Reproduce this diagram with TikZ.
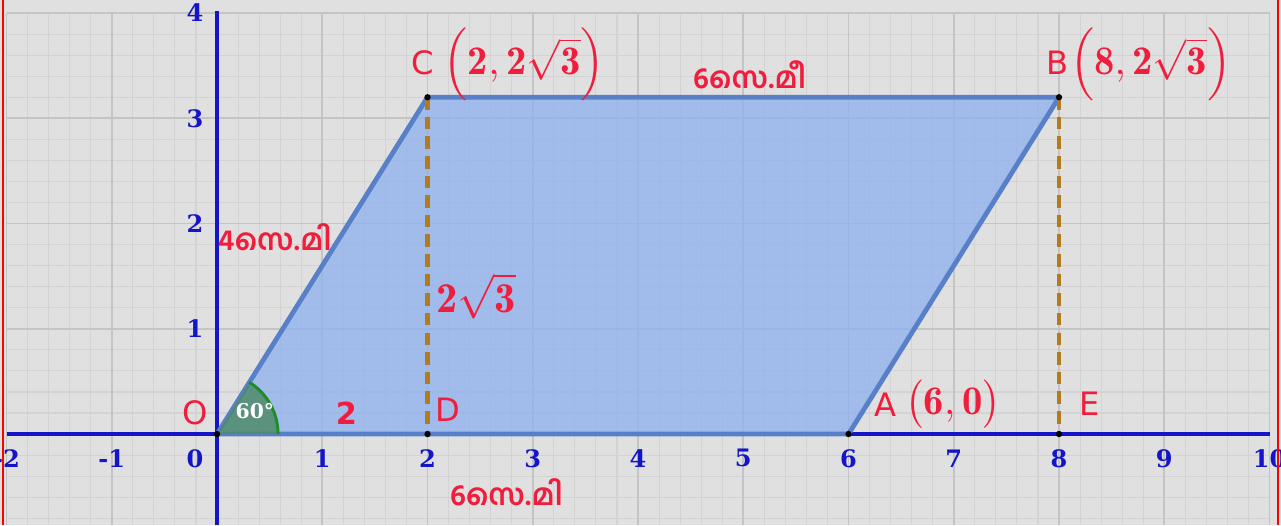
\documentclass[tikz,border=0pt]{standalone}
\usepackage{fontspec}
\usepackage{amsmath}
\setsansfont{DejaVu Sans}
\newfontfamily\mlfont[Script=Malayalam]{Hind Kochi}
\newfontfamily\ejefont{DejaVu Serif}
\usetikzlibrary{positioning}

\definecolor{fondo}{HTML}{E0E0E0}
\definecolor{rejilla}{HTML}{C4C4C4}
\definecolor{rejillafina}{HTML}{D3D3D3}
\definecolor{azuleje}{HTML}{1414C8}
\definecolor{relleno}{HTML}{8DB0F0}
\definecolor{borde}{HTML}{5880C8}
\definecolor{trazos}{HTML}{B07D1E}
\definecolor{rojo}{HTML}{F01E3C}
\definecolor{verde}{HTML}{4F8B6B}
\definecolor{arcoverde}{HTML}{1E8C28}

\begin{document}
\begin{tikzpicture}[
        punto/.style={circle, fill=black, inner sep=0pt, minimum size=0.6mm},
        rotulo/.style={text=rojo, inner sep=1pt, font=\sffamily\fontsize{8.7}{9}\selectfont},
        coord/.style={text=rojo, inner sep=0pt, font=\fontsize{11}{12}\selectfont},
        medida/.style={text=rojo, inner sep=1pt, font=\mlfont\bfseries\fontsize{8}{9}\selectfont},
        marca/.style={text=azuleje, inner sep=1pt, font=\ejefont\bfseries\fontsize{6.5}{7}\selectfont},
        eje/.style={azuleje, line width=0.85pt},
        lado/.style={borde, line width=1.3pt, line join=round},
        altura/.style={trazos, line width=1.1pt, dash pattern=on 3.4pt off 1.9pt}
    ]

    % Marco
    \useasboundingbox (-2.062,-0.865) rectangle (10.109,4.124);
    \fill[fondo] (-2.062,-0.865) rectangle (10.109,4.124);
    \draw[rejillafina, line width=0.3pt, step=0.2] (-2,-0.865) grid (10,4);
    \draw[rejilla, line width=0.5pt, step=1] (-2,-0.865) grid (10,4);

    % Ejes
    \draw[eje] (-2,0) -- (10,0);
    \draw[eje] (0,-0.865) -- (0,4.02);
    \foreach \x in {-2,-1,1,2,3,4,5,6,7,8,9,10}
        \node[marca] (tx\x) at (\x,-0.23) {\x};
    \node[marca] (tx0) at (-0.21,-0.23) {0};
    \foreach \y in {1,2,3,4}
        \node[marca] (ty\y) at (-0.21,\y) {\y};

    % Vértices
    \coordinate (O) at (0,0);
    \coordinate (A) at (6,0);
    \coordinate (B) at (8,3.2);
    \coordinate (C) at (2,3.2);
    \coordinate (D) at (2,0);
    \coordinate (E) at (8,0);

    % Paralelogramo
    \fill[relleno, fill opacity=0.75] (O) -- (A) -- (B) -- (C) -- cycle;
    \draw[lado] (O) -- (A) -- (B) -- (C) -- cycle;

    % Ángulo
    \fill[verde, fill opacity=0.85] (O) -- (0.58,0) arc[start angle=0, end angle=58, radius=0.58] -- cycle;
    \draw[arcoverde, line width=0.8pt] (0.58,0) arc[start angle=0, end angle=58, radius=0.58];

    % Alturas
    \draw[altura] (C) -- (D);
    \draw[altura] (B) -- (E);

    % Puntos
    \node[punto] (nO) at (O) {};
    \node[punto] (nA) at (A) {};
    \node[punto] (nB) at (B) {};
    \node[punto] (nC) at (C) {};
    \node[punto] (nD) at (D) {};
    \node[punto] (nE) at (E) {};

    % Rótulos
    \node[rotulo] (lO) at (-0.21,0.20) {O};
    \node[rotulo] (lD) at (2.19,0.23) {D};
    \node[rotulo] (lE) at (8.29,0.29) {E};
    \node[rotulo] (lA) at (6.35,0.28) {A};
    \node[coord, right=1pt of lA] (lAc) {$\big(\mathbf{6},\mathbf{0}\big)$};
    \node[rotulo] (lC) at (1.95,3.53) {C};
    \node[coord] (lCc) at (2.92,3.51) {$\Big(\mathbf{2},\mathbf{2}\sqrt{\mathbf{3}}\Big)$};
    \node[rotulo] (lB) at (7.99,3.53) {B};
    \node[coord] (lBc) at (8.87,3.51) {$\Big(\mathbf{8},\mathbf{2}\sqrt{\mathbf{3}}\Big)$};
    \node[coord, font=\fontsize{11.5}{12}\selectfont] (lh) at (2.46,1.31) {$\mathbf{2}\sqrt{\mathbf{3}}$};
    \node[rotulo, font=\sffamily\bfseries\fontsize{8.2}{9}\selectfont] (ldos) at (1.23,0.20) {2};
    \node[text=white, inner sep=0pt, font=\ejefont\bfseries\fontsize{5.5}{6}\selectfont] (lang) at (0.36,0.22) {60°};

    % Medidas
    \node[medida] (mCB) at (5.06,3.41) {6സെ.മീ};
    \node[medida] (mOC) at (0.55,1.87) {4സെ.മി};
    \node[medida] (mOA) at (2.75,-0.55) {6സെ.മി};

    % Bordes
    \draw[red, line width=0.6pt] (-2.033,-0.865) -- (-2.033,4.124);
    \draw[red, line width=0.6pt] (10.08,-0.865) -- (10.08,4.124);

\end{tikzpicture}
\end{document}
